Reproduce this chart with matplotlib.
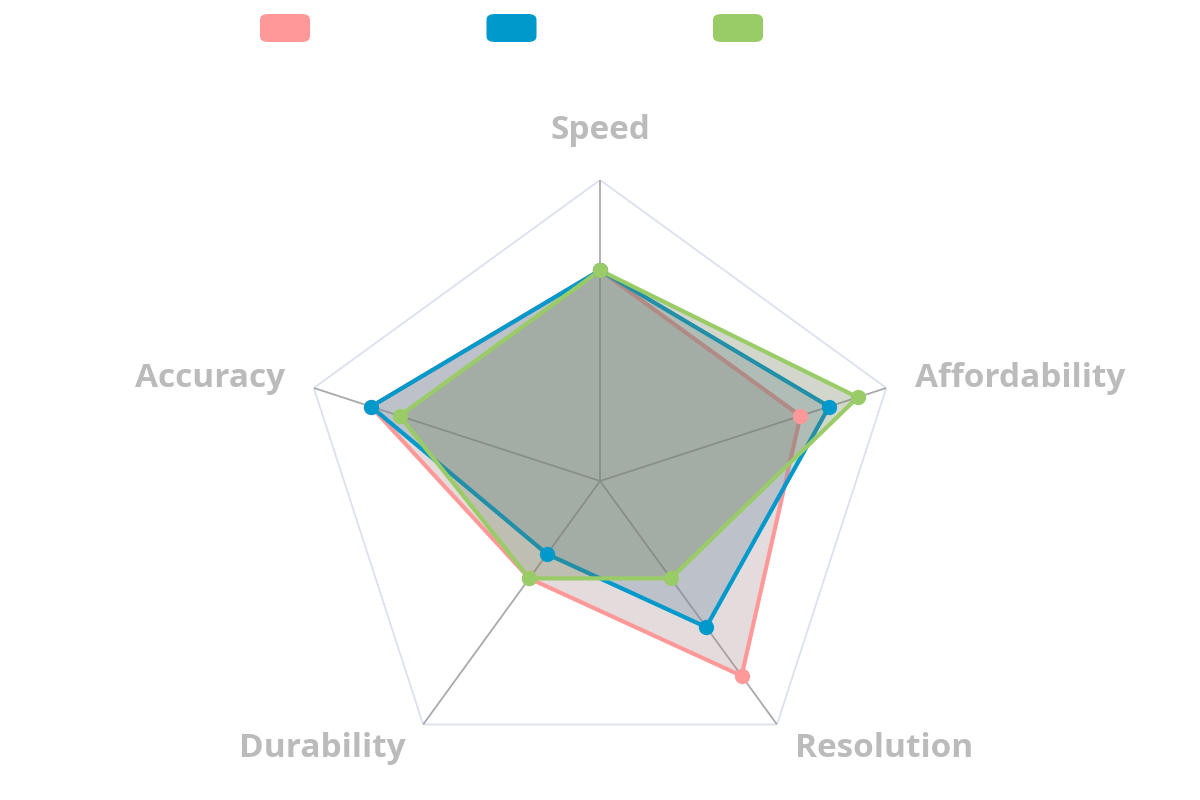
import numpy as np
import matplotlib
matplotlib.use('Agg')
import matplotlib.pyplot as plt
from matplotlib.patches import FancyBboxPatch

categories = ['Speed', 'Affordability', 'Resolution', 'Durability', 'Accuracy']
series_names = ['Series A', 'Series B', 'Series C']
values_a = [7, 7, 8, 4, 8]
values_b = [7, 8, 6, 3, 8]
values_c = [7, 9, 4, 4, 7]
max_value = 10

line_colors = ['#FF9999', '#0099CC', '#99CC66']
fill_colors = [(0.66, 0.55, 0.55), (0.39, 0.53, 0.63), (0.42, 0.48, 0.33)]
label_color = '#BBBBBB'

plt.rcParams['font.family'] = ['Open Sans', 'DejaVu Sans']

fig = plt.figure(figsize=(12, 8), dpi=100)
ax = fig.add_axes([0.2492, 0.0225, 0.5017, 0.7525], projection='polar')
ax.set_theta_offset(np.pi / 2)
ax.set_theta_direction(-1)
ax.set_ylim(0, max_value)
ax.axis('off')

n = len(categories)
angles = np.linspace(0, 2 * np.pi, n, endpoint=False)
closed = np.append(angles, angles[0])

# outer ring + spokes
ax.plot(closed, [max_value] * (n + 1), color='#DDE0EE', lw=1.3, zorder=1)
for a in angles:
    ax.plot([a, a], [0, max_value], color='#AAAAAA', lw=1.3, zorder=1)

all_values = [values_a, values_b, values_c]
for i, vals in enumerate(all_values):
    v = np.append(vals, vals[0])
    ax.fill(closed, v, color=fill_colors[i], alpha=0.3, lw=0, zorder=2 + i)
    ax.plot(closed, v, color=line_colors[i], lw=3, zorder=2 + i)
# points sit above every fill
for i, vals in enumerate(all_values):
    ax.plot(angles, vals, ls='none', marker='o', markersize=11,
            markeredgewidth=0, color=line_colors[i], zorder=10 + i)

# category labels
for a, cat in zip(angles, categories):
    deg = np.degrees(a)
    if deg == 0:
        ax.text(a, 11.65, cat, ha='center', va='center', fontsize=24,
                fontweight='bold', color=label_color)
    else:
        ha = 'left' if deg < 180 else 'right'
        ax.text(a, 11.0, cat, ha=ha, va='center', fontsize=24,
                fontweight='bold', color=label_color)

# legend swatches (no text)
for i, name in enumerate(series_names):
    x0 = (260 + i * 226.5) / 1200
    box = FancyBboxPatch((x0, 1 - 42 / 800), 50 / 1200, 28 / 800,
                         boxstyle='round,pad=0,rounding_size=0.007',
                         transform=fig.transFigure, facecolor=line_colors[i],
                         edgecolor='none', label=name)
    fig.patches.append(box)

fig.savefig('out.png', dpi=100)
